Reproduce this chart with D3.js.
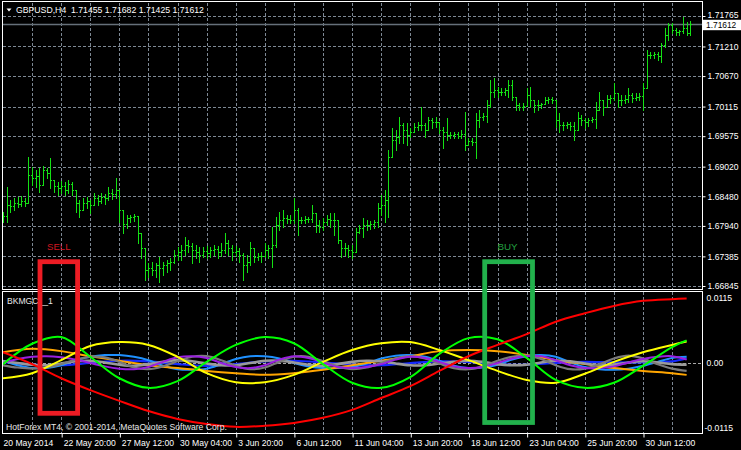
<!DOCTYPE html>
<html><head><meta charset="utf-8">
<script src="https://cdn.jsdelivr.net/npm/d3@7"></script>
<style>html,body{margin:0;padding:0;background:#000;}svg{display:block}</style>
</head><body>
<script>
// ---------------- DATA ----------------
const chartTitle = "GBPUSD,H4  1.71455 1.71682 1.71425 1.71612";
const indicatorName = "BKMGC__1";
const copyrightText = "HotForex MT4, \u00A9 2001-2014, MetaQuotes Software Corp.";
const lastPrice = 1.71612;

const barOpen = [
1.6815,1.6812,1.6832,1.6831,1.6836,1.6834,1.6840,1.6836,1.6887,1.6882,
1.6885,1.6869,1.6896,1.6891,1.6878,1.6867,1.6863,1.6867,1.6860,1.6871,
1.6860,1.6836,1.6823,1.6836,1.6840,1.6832,1.6845,1.6840,1.6847,1.6845,
1.6854,1.6853,1.6860,1.6823,1.6798,1.6809,1.6811,1.6812,1.6781,1.6754,
1.6714,1.6718,1.6714,1.6722,1.6718,1.6722,1.6727,1.6729,1.6741,1.6747,
1.6750,1.6760,1.6758,1.6750,1.6747,1.6741,1.6749,1.6745,1.6750,1.6752,
1.6747,1.6750,1.6763,1.6754,1.6747,1.6749,1.6741,1.6723,1.6729,1.6754,
1.6738,1.6740,1.6740,1.6750,1.6754,1.6760,1.6796,1.6805,1.6809,1.6807,
1.6805,1.6823,1.6805,1.6805,1.6807,1.6807,1.6818,1.6796,1.6792,1.6801,
1.6807,1.6805,1.6805,1.6769,1.6754,1.6754,1.6750,1.6747,1.6783,1.6791,
1.6796,1.6796,1.6798,1.6801,1.6827,1.6832,1.6842,1.6920,1.6951,1.6956,
1.6978,1.6969,1.6960,1.6965,1.6975,1.6978,1.6978,1.6969,1.6987,1.6984,
1.6984,1.6969,1.6965,1.6960,1.6960,1.6962,1.6958,1.6962,1.6942,1.6949,
1.6947,1.6987,1.6993,1.6995,1.7015,1.7038,1.7042,1.7038,1.7038,1.7042,
1.7051,1.7029,1.7015,1.7011,1.7013,1.7033,1.7024,1.7015,1.7015,1.7017,
1.7024,1.7026,1.7024,1.6987,1.6978,1.6978,1.6980,1.6976,1.6969,1.6991,
1.6987,1.6984,1.6987,1.6989,1.7006,1.7024,1.7011,1.7026,1.7027,1.7037,
1.7024,1.7024,1.7026,1.7033,1.7027,1.7029,1.7031,1.7046,1.7106,1.7106,
1.7108,1.7104,1.7124,1.7142,1.7160,1.7151,1.7148,1.7150,1.7155,1.71455];

const barHigh = [
1.6820,1.6865,1.6842,1.6845,1.6847,1.6849,1.6845,1.6920,1.6902,1.6896,
1.6900,1.6904,1.6900,1.6918,1.6878,1.6874,1.6876,1.6874,1.6878,1.6874,
1.6851,1.6842,1.6845,1.6847,1.6842,1.6854,1.6851,1.6854,1.6853,1.6865,
1.6862,1.6882,1.6860,1.6823,1.6814,1.6814,1.6816,1.6812,1.6781,1.6754,
1.6727,1.6729,1.6727,1.6738,1.6729,1.6732,1.6736,1.6750,1.6756,1.6760,
1.6774,1.6769,1.6763,1.6760,1.6756,1.6756,1.6758,1.6756,1.6760,1.6758,
1.6763,1.6781,1.6769,1.6760,1.6758,1.6754,1.6745,1.6741,1.6765,1.6754,
1.6745,1.6747,1.6763,1.6760,1.6792,1.6811,1.6820,1.6823,1.6814,1.6814,
1.6845,1.6827,1.6811,1.6812,1.6811,1.6832,1.6818,1.6805,1.6809,1.6814,
1.6818,1.6818,1.6805,1.6769,1.6762,1.6760,1.6760,1.6791,1.6796,1.6809,
1.6805,1.6803,1.6805,1.6836,1.6851,1.6860,1.6933,1.6973,1.6969,1.6993,
1.6982,1.6982,1.6973,1.6982,1.6984,1.7011,1.6982,1.6993,1.6991,1.6993,
1.6984,1.6975,1.6991,1.6965,1.6965,1.6965,1.6969,1.7002,1.6954,1.6954,
1.7000,1.7006,1.7000,1.7024,1.7060,1.7064,1.7047,1.7046,1.7046,1.7060,
1.7060,1.7029,1.7018,1.7018,1.7046,1.7047,1.7024,1.7024,1.7018,1.7029,
1.7029,1.7029,1.7024,1.7000,1.6984,1.6984,1.6984,1.6984,1.7002,1.6996,
1.6991,1.6991,1.6993,1.7020,1.7038,1.7024,1.7033,1.7033,1.7055,1.7037,
1.7033,1.7033,1.7046,1.7037,1.7037,1.7037,1.7055,1.7115,1.7111,1.7111,
1.7111,1.7128,1.7155,1.7164,1.7164,1.7155,1.7151,1.7175,1.7166,1.71682];

const barLow = [
1.6801,1.6801,1.6820,1.6823,1.6829,1.6831,1.6831,1.6836,1.6869,1.6865,
1.6856,1.6869,1.6882,1.6863,1.6856,1.6851,1.6854,1.6851,1.6854,1.6851,
1.6820,1.6811,1.6823,1.6827,1.6818,1.6832,1.6832,1.6836,1.6834,1.6842,
1.6843,1.6845,1.6801,1.6781,1.6791,1.6801,1.6803,1.6763,1.6736,1.6696,
1.6701,1.6705,1.6701,1.6692,1.6705,1.6710,1.6714,1.6727,1.6732,1.6732,
1.6741,1.6747,1.6727,1.6736,1.6729,1.6738,1.6736,1.6738,1.6741,1.6736,
1.6740,1.6745,1.6741,1.6732,1.6740,1.6729,1.6696,1.6710,1.6723,1.6729,
1.6732,1.6729,1.6738,1.6736,1.6720,1.6756,1.6787,1.6792,1.6800,1.6800,
1.6800,1.6778,1.6800,1.6800,1.6801,1.6801,1.6783,1.6783,1.6787,1.6796,
1.6792,1.6778,1.6763,1.6738,1.6741,1.6738,1.6736,1.6747,1.6781,1.6774,
1.6787,1.6789,1.6791,1.6792,1.6814,1.6801,1.6811,1.6920,1.6933,1.6945,
1.6945,1.6942,1.6956,1.6965,1.6969,1.6969,1.6956,1.6969,1.6973,1.6975,
1.6964,1.6936,1.6951,1.6954,1.6954,1.6954,1.6954,1.6933,1.6942,1.6942,
1.6918,1.6975,1.6987,1.6984,1.7011,1.7029,1.7029,1.7033,1.7033,1.7029,
1.7024,1.7006,1.7006,1.7006,1.7013,1.7011,1.7002,1.7006,1.7009,1.7017,
1.7018,1.7018,1.6975,1.6965,1.6969,1.6973,1.6969,1.6951,1.6969,1.6978,
1.6973,1.6976,1.6984,1.6973,1.7006,1.6996,1.7011,1.7018,1.7024,1.7011,
1.7015,1.7018,1.7020,1.7020,1.7024,1.7024,1.7006,1.7046,1.7100,1.7100,
1.7097,1.7093,1.7120,1.7133,1.7146,1.7142,1.7142,1.7146,1.7142,1.71425];

const barClose = [
1.6812,1.6832,1.6831,1.6836,1.6834,1.6840,1.6836,1.6887,1.6882,1.6885,
1.6869,1.6896,1.6891,1.6878,1.6867,1.6863,1.6867,1.6860,1.6871,1.6860,
1.6836,1.6823,1.6836,1.6840,1.6832,1.6845,1.6840,1.6847,1.6845,1.6854,
1.6853,1.6860,1.6823,1.6798,1.6809,1.6811,1.6812,1.6781,1.6754,1.6714,
1.6718,1.6714,1.6722,1.6718,1.6722,1.6727,1.6729,1.6741,1.6747,1.6750,
1.6760,1.6758,1.6750,1.6747,1.6741,1.6749,1.6745,1.6750,1.6752,1.6747,
1.6750,1.6763,1.6754,1.6747,1.6749,1.6741,1.6723,1.6729,1.6754,1.6738,
1.6740,1.6740,1.6750,1.6754,1.6760,1.6796,1.6805,1.6809,1.6807,1.6805,
1.6823,1.6805,1.6805,1.6807,1.6807,1.6818,1.6796,1.6792,1.6801,1.6807,
1.6805,1.6805,1.6769,1.6754,1.6754,1.6750,1.6747,1.6783,1.6791,1.6796,
1.6796,1.6798,1.6801,1.6827,1.6832,1.6842,1.6920,1.6951,1.6956,1.6978,
1.6969,1.6960,1.6965,1.6975,1.6978,1.6978,1.6969,1.6987,1.6984,1.6984,
1.6969,1.6965,1.6960,1.6960,1.6962,1.6958,1.6962,1.6942,1.6949,1.6947,
1.6987,1.6993,1.6995,1.7015,1.7038,1.7042,1.7038,1.7038,1.7042,1.7051,
1.7029,1.7015,1.7011,1.7013,1.7033,1.7024,1.7015,1.7015,1.7017,1.7024,
1.7026,1.7024,1.6987,1.6978,1.6978,1.6980,1.6976,1.6969,1.6991,1.6987,
1.6984,1.6987,1.6989,1.7006,1.7024,1.7011,1.7026,1.7027,1.7037,1.7024,
1.7024,1.7026,1.7033,1.7027,1.7029,1.7031,1.7046,1.7106,1.7106,1.7108,
1.7104,1.7124,1.7142,1.7160,1.7151,1.7148,1.7150,1.7155,1.7146,1.71612];

const priceTicks = [1.66845,1.67385,1.67940,1.68480,1.69020,1.69575,1.70115,1.70670,1.71210,1.71765];

const timeTickBars = [0,16,32,48,64,80,96,112,128,144,160,176];
const timeLabels = ["20 May 2014","22 May 20:00","27 May 12:00","30 May 04:00","3 Jun 20:00","6 Jun 12:00",
  "11 Jun 04:00","13 Jun 20:00","18 Jun 12:00","23 Jun 04:00","25 Jun 20:00","30 Jun 12:00"];

// indicator (sampled at bar indices)
const slowIdx = [0,8,16,24,32,40,48,56,64,72,80,88,96,104,112,120,128,136,144,152,160,168,176,184,188];
const fastIdx = [0,4,8,12,16,20,24,28,32,36,40,44,48,52,56,60,64,68,72,76,80,84,88,92,96,100,104,108,112,116,120,124,128,132,136,140,144,148,152,156,160,164,168,172,176,180,184,188];

const indRed    = [0.0019,-0.0002,-0.0027,-0.0048,-0.0067,-0.0085,-0.0099,-0.0108,-0.0113,-0.0111,-0.0106,-0.0097,-0.0083,-0.0062,-0.0041,-0.0014,0.0012,0.0032,0.0051,0.0073,0.0088,0.0101,0.0110,0.0113,0.0114];
const indGreen  = [-0.0002,0.0034,0.0046,0.0011,-0.0027,-0.0044,-0.0032,0.0002,0.0032,0.0046,0.0035,-0.0002,-0.0035,-0.0044,-0.0025,0.0016,0.0044,0.0042,0.0009,-0.0030,-0.0044,-0.0035,-0.0005,0.0028,0.0040];
const indYellow = [-0.0027,-0.0018,0.0005,0.0030,0.0037,0.0032,0.0011,-0.0018,-0.0034,-0.0034,-0.0021,0.0002,0.0023,0.0035,0.0037,0.0023,0.0005,-0.0014,-0.0030,-0.0035,-0.0019,0.0002,0.0019,0.0032,0.0038];
const indOrange = [0.0019,0.0025,0.0021,0.0012,0.0004,-0.0004,-0.0009,-0.0014,-0.0018,-0.0021,-0.0018,-0.0012,-0.0004,0.0004,0.0012,0.0021,0.0023,0.0021,0.0014,0.0005,-0.0002,-0.0009,-0.0014,-0.0018,-0.0021];
const indBlue   = [0.0002,-0.0003,-0.0004,0.0000,0.0004,0.0003,-0.0002,-0.0005,-0.0002,0.0003,0.0004,0.0001,-0.0003,-0.0004,0.0000,0.0003,0.0002,-0.0002,-0.0003,0.0000,0.0002,0.0001,0.0001,0.0003,0.0008];

const indPurple = [0.0000,0.0007,0.0011,0.0012,0.0010,0.0006,0.0000,-0.0006,-0.0010,-0.0011,-0.0007,0.0002,0.0010,0.0012,0.0009,0.0000,-0.0007,-0.0009,-0.0004,0.0006,0.0012,0.0009,0.0001,-0.0007,-0.0009,-0.0007,-0.0002,0.0006,0.0011,0.0009,0.0002,-0.0006,-0.0009,-0.0007,0.0000,0.0008,0.0012,0.0012,0.0005,-0.0004,-0.0009,-0.0009,-0.0006,0.0001,0.0007,0.0011,0.0012,0.0006];
const indDodger = [0.0004,-0.0004,-0.0009,-0.0009,-0.0004,0.0005,0.0011,0.0014,0.0014,0.0011,0.0005,-0.0005,-0.0011,-0.0012,-0.0010,-0.0002,0.0007,0.0012,0.0012,0.0008,0.0000,-0.0006,-0.0009,-0.0009,-0.0007,-0.0001,0.0008,0.0013,0.0014,0.0011,0.0004,-0.0005,-0.0009,-0.0008,-0.0003,0.0006,0.0012,0.0014,0.0011,0.0001,-0.0007,-0.0011,-0.0012,-0.0010,-0.0005,0.0002,0.0009,0.0011];
const indGray   = [-0.0004,-0.0008,-0.0010,-0.0008,-0.0002,0.0006,0.0011,0.0010,0.0002,-0.0008,-0.0011,-0.0006,0.0003,0.0011,0.0012,0.0005,-0.0005,-0.0011,-0.0008,0.0002,0.0011,0.0011,0.0003,-0.0006,-0.0011,-0.0008,0.0000,0.0008,0.0012,0.0008,-0.0001,-0.0009,-0.0011,-0.0006,0.0004,0.0011,0.0013,0.0007,-0.0004,-0.0011,-0.0010,-0.0002,0.0008,0.0013,0.0008,-0.0002,-0.0010,-0.0014];
const indSilver = [0.0003,0.0000,-0.0003,-0.0004,-0.0001,0.0003,0.0004,0.0001,-0.0003,-0.0005,-0.0002,0.0002,0.0005,0.0003,-0.0001,-0.0004,-0.0004,0.0000,0.0004,0.0004,0.0001,-0.0003,-0.0005,-0.0002,0.0002,0.0004,0.0003,-0.0001,-0.0004,-0.0004,-0.0001,0.0002,0.0004,0.0002,-0.0002,-0.0004,-0.0003,0.0001,0.0004,0.0003,-0.0001,-0.0004,-0.0003,0.0001,0.0003,0.0001,-0.0002,-0.0003];

const indTicks = [0.0115, 0, -0.0115];
const indTickLabels = ["0.0115","0.00","-0.0115"];

// ---------------- DRAW ----------------
const W = 741, H = 450;
const FONT = '"Liberation Sans", Arial, sans-serif';
const GRID = "#7d8894";

const svg = d3.select("body").append("svg").attr("width", W).attr("height", H)
  .style("background", "#000");

const x = d3.scaleLinear().domain([0, 189]).range([3, 690.27]);
const yP = d3.scaleLinear().domain([1.66845, 1.71765]).range([286, 16]);
const yI = d3.scaleLinear().domain([-0.0115, 0.0115]).range([428, 298]);
const cx = i => Math.round(x(i)) + 0.5;

const defs = svg.append("defs");
defs.append("clipPath").attr("id", "clipMain").append("rect").attr("x", 3).attr("y", 2).attr("width", 699).attr("height", 287);
defs.append("clipPath").attr("id", "clipInd").append("rect").attr("x", 3).attr("y", 292).attr("width", 699).attr("height", 141);

// grid
const gridIdx = d3.range(8, 185, 8);
const grid = svg.append("g").attr("stroke", GRID).attr("stroke-width", 1).attr("stroke-dasharray", "3,2").attr("shape-rendering", "crispEdges");
grid.selectAll("line.vm").data(gridIdx).join("line").attr("class","vm")
  .attr("x1", d => cx(d)).attr("x2", d => cx(d)).attr("y1", 3).attr("y2", 289);
grid.selectAll("line.vi").data(gridIdx).join("line").attr("class","vi")
  .attr("x1", d => cx(d)).attr("x2", d => cx(d)).attr("y1", 292).attr("y2", 433);
grid.selectAll("line.h").data(priceTicks).join("line").attr("class","h")
  .attr("x1", 3).attr("x2", 702).attr("y1", d => Math.round(yP(d)) + 0.5).attr("y2", d => Math.round(yP(d)) + 0.5);

// zero level in indicator
svg.append("line").attr("x1", 3).attr("x2", 702)
  .attr("y1", Math.round(yI(0)) + 0.5).attr("y2", Math.round(yI(0)) + 0.5)
  .attr("stroke", "#a8a8a8").attr("stroke-dasharray", "3,2").attr("shape-rendering", "crispEdges");

// bid line
svg.append("line").attr("x1", 3).attr("x2", 702)
  .attr("y1", yP(lastPrice)).attr("y2", yP(lastPrice))
  .attr("stroke", "#66707a").attr("stroke-width", 1.5);

// OHLC bars
const bars = barClose.map((c, i) => ({ i, o: barOpen[i], h: barHigh[i], l: barLow[i], c }));
svg.append("g").attr("clip-path", "url(#clipMain)")
  .selectAll("path").data(bars).join("path")
  .attr("d", d => {
    const xx = cx(d.i);
    const hi = Math.round(yP(Math.max(d.h, d.o, d.c)));
    const lo = Math.round(yP(Math.min(d.l, d.o, d.c)));
    const yo = Math.round(yP(d.o)) + 0.5, yc = Math.round(yP(d.c)) + 0.5;
    return `M${xx},${hi}V${lo + 1}M${xx - 1.5},${yo}H${xx}M${xx},${yc}H${xx + 1.5}`;
  })
  .attr("stroke", "#14e014").attr("stroke-width", 1).attr("fill", "none")
  .attr("shape-rendering", "crispEdges");

// indicator lines
const gI = svg.append("g").attr("clip-path", "url(#clipInd)");
const lineFor = idx => d3.line().x((d, k) => x(idx[k])).y(d => yI(d)).curve(d3.curveCatmullRom.alpha(0.5));
const series = [
  { v: indBlue, idx: slowIdx, c: "#1428ff", w: 2.2 },
  { v: indDodger, idx: fastIdx, c: "#1e90ff", w: 2 },
  { v: indOrange, idx: slowIdx, c: "#ffa500", w: 2 },
  { v: indSilver, idx: fastIdx, c: "#9a9a9a", w: 2.6 },
  { v: indGray, idx: fastIdx, c: "#7a7a7a", w: 2.2 },
  { v: indPurple, idx: fastIdx, c: "#9a1fe0", w: 2 },
  { v: indYellow, idx: slowIdx, c: "#ffff00", w: 2 },
  { v: indGreen, idx: slowIdx, c: "#00ff00", w: 2 },
  { v: indRed, idx: slowIdx, c: "#ff0000", w: 2 }
];
gI.selectAll("path").data(series).join("path")
  .attr("d", s => lineFor(s.idx)(s.v))
  .attr("fill", "none").attr("stroke", s => s.c).attr("stroke-width", s => s.w)
  .attr("stroke-linejoin", "round");

// frames
const frame = svg.append("g").attr("stroke", "#ffffff").attr("fill", "none").attr("shape-rendering", "crispEdges");
frame.append("rect").attr("x", 2.5).attr("y", 1.5).attr("width", 700).attr("height", 288);
frame.append("rect").attr("x", 2.5).attr("y", 291.5).attr("width", 700).attr("height", 142);

// price axis
const axP = svg.append("g").attr("transform", "translate(702.5,0)")
  .call(d3.axisRight(yP).tickValues(priceTicks).tickSize(3).tickPadding(2).tickFormat(d => d.toFixed(5)));
axP.select(".domain").remove();
axP.selectAll("line").attr("stroke", "#fff");
axP.selectAll("text").attr("fill", "#fff").style("font-family", FONT).style("font-size", "8.6px");
axP.selectAll(".tick").filter(d => d === 1.71765).select("text").attr("dy", "0.2em");

// last price label
svg.append("rect").attr("x", 703).attr("y", yP(lastPrice) - 4.6).attr("width", 38).attr("height", 10.4).attr("fill", "#fff");
svg.append("text").attr("x", 706).attr("y", yP(lastPrice) + 3.6).text(lastPrice.toFixed(5))
  .attr("fill", "#000").style("font-family", FONT).style("font-size", "8.4px");

// indicator axis
const axI = svg.append("g").attr("transform", "translate(702.5,0)")
  .call(d3.axisRight(yI).tickValues(indTicks).tickSize(0).tickPadding(4).tickFormat((d, i) => indTickLabels[i]));
axI.select(".domain").remove();
axI.selectAll("text").attr("fill", "#fff").style("font-family", FONT).style("font-size", "8.6px")
  .attr("x", (d) => d < 0 ? 2 : 4);

// time axis
const axT = svg.append("g").attr("transform", "translate(0,433.5)")
  .call(d3.axisBottom(x).tickValues(timeTickBars).tickSize(4).tickPadding(2).tickFormat((d, i) => timeLabels[i]));
axT.select(".domain").remove();
axT.selectAll("line").attr("stroke", "#fff").attr("transform", "translate(0.5,0)");
axT.selectAll(".tick").filter(d => d === 0).select("line").remove();
axT.selectAll("text").attr("fill", "#fff").attr("text-anchor", "start").attr("x", (d) => d === 0 ? 0 : 2)
  .style("font-family", FONT).style("font-size", "8.6px");

// title
svg.append("path").attr("d", "M6.5,8.5L11.5,8.5L9,11.5Z").attr("fill", "#fff");
svg.append("text").attr("x", 16).attr("y", 13).text(chartTitle)
  .attr("fill", "#fff").style("white-space", "pre").style("font-family", FONT).style("font-size", "8.7px");

// indicator name and copyright
svg.append("text").attr("x", 7).attr("y", 303.5).text(indicatorName)
  .attr("fill", "#e8e8e8").style("font-family", FONT).style("font-size", "8.6px");
svg.append("text").attr("x", 6).attr("y", 429.5).text(copyrightText)
  .attr("fill", "#e8e8e8").style("font-family", FONT).style("font-size", "8.6px");

// annotations SELL / BUY
svg.append("rect").attr("x", 40).attr("y", 261.7).attr("width", 37.6).attr("height", 151.6)
  .attr("fill", "none").attr("stroke", "#ed1c24").attr("stroke-width", 4.8);
svg.append("text").attr("x", 47).attr("y", 250).text("SELL")
  .attr("fill", "#d01820").style("font-family", FONT).style("font-size", "9.6px");
svg.append("rect").attr("x", 484.7).attr("y", 261.7).attr("width", 47.8).attr("height", 160.8)
  .attr("fill", "none").attr("stroke", "#22b14c").attr("stroke-width", 4.8);
svg.append("text").attr("x", 497.5).attr("y", 250).text("BUY")
  .attr("fill", "#22a040").style("font-family", FONT).style("font-size", "9.8px");
</script>
</body></html>
